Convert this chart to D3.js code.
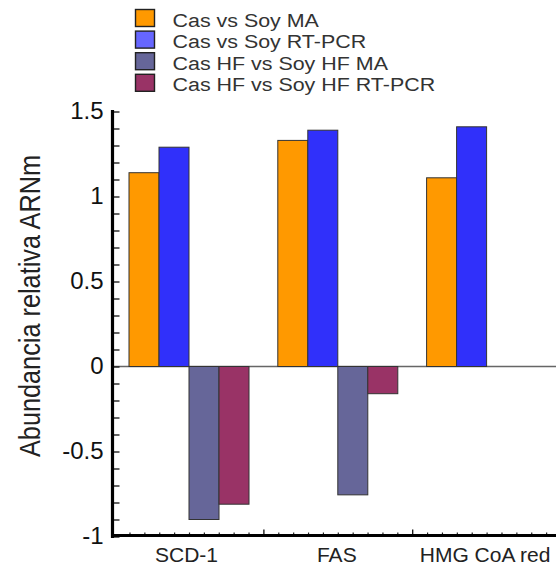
<!DOCTYPE html>
<html>
<head>
<meta charset="utf-8">
<script src="https://cdn.jsdelivr.net/npm/d3@7"></script>
<style>
  html, body { margin: 0; padding: 0; background: #fff; }
  svg { display: block; font-family: "Liberation Sans", Arial, sans-serif; }
</style>
</head>
<body>
<svg id="chart" width="556" height="567"></svg>
<script>
// Genes on the x axis
const genes = ["SCD-1", "FAS", "HMG CoA red"];
// Comparisons (one bar per gene each)
const seriesNames = ["Cas vs Soy MA", "Cas vs Soy RT-PCR", "Cas HF vs Soy HF MA", "Cas HF vs Soy HF RT-PCR"];
// Relative mRNA abundance, per comparison, in gene order (null = not measured)
const casSoyMA        = [1.14, 1.33, 1.11];
const casSoyRTPCR     = [1.29, 1.39, 1.41];
const casHFSoyHFMA    = [-0.90, -0.755, null];
const casHFSoyHFRTPCR = [-0.81, -0.16, null];
const seriesValues = [casSoyMA, casSoyRTPCR, casHFSoyHFMA, casHFSoyHFRTPCR];
// Axis ticks
const yTickLabels = [-1, -0.5, 0, 0.5, 1, 1.5];
const yMinorTicks = [-1, -0.9, -0.8, -0.7, -0.6, -0.5, -0.4, -0.3, -0.2, -0.1, 0, 0.1, 0.2, 0.3, 0.4, 0.5, 0.6, 0.7, 0.8, 0.9, 1, 1.1, 1.2, 1.3, 1.4, 1.5];

const barColors = ["#ff9900", "#3030fa", "#666699", "#993366"];
const swatchColors = ["#ff9900", "#6666ff", "#666699", "#993366"];

const svg = d3.select("#chart");

const y = d3.scaleLinear().domain([-1, 1.5]).range([536.5, 111.5]);
const x0 = d3.scaleBand().domain(genes).range([114.6, 561]).padding(0);
const x1 = d3.scaleBand().domain(seriesNames).range([0, x0.bandwidth()])
  .paddingInner(0).paddingOuter(0.48);

// Zero reference line
svg.append("line")
  .attr("x1", 113).attr("x2", 556)
  .attr("y1", y(0)).attr("y2", y(0))
  .attr("stroke", "#666").attr("stroke-width", 1.6);

// Bars
const rows = [];
genes.forEach((g, gi) => {
  seriesNames.forEach((s, si) => {
    const v = seriesValues[si][gi];
    if (v !== null) rows.push({ gene: g, series: s, si, value: v });
  });
});
svg.append("g").selectAll("rect").data(rows).join("rect")
  .attr("x", d => x0(d.gene) + x1(d.series))
  .attr("width", x1.bandwidth())
  .attr("y", d => y(Math.max(0, d.value)))
  .attr("height", d => Math.abs(y(d.value) - y(0)))
  .attr("fill", d => barColors[d.si])
  .attr("stroke", "#333")
  .attr("stroke-width", 1);

// Y axis: minor ticks inside, labels on the left
const yAxisX = 112.5;
svg.append("g")
  .attr("transform", `translate(${yAxisX},0)`)
  .call(d3.axisRight(y).tickValues(yMinorTicks).tickSize(7).tickFormat(""))
  .call(g => g.select(".domain").remove())
  .call(g => g.selectAll(".tick line").attr("stroke", "#111").attr("stroke-width", 1.3));

svg.append("g")
  .attr("transform", `translate(${yAxisX},0)`)
  .call(d3.axisLeft(y).tickValues(yTickLabels).tickSize(0).tickPadding(9)
    .tickFormat(d => String(d)))
  .call(g => g.select(".domain").remove())
  .call(g => g.selectAll(".tick text")
    .attr("font-size", 24).attr("fill", "#111")
    .attr("font-family", "'Liberation Sans', Arial, sans-serif")
    .attr("dy", "0.28em"));

svg.append("line")
  .attr("x1", yAxisX).attr("x2", yAxisX)
  .attr("y1", y(1.5) - 1.5).attr("y2", y(-1) + 1.5)
  .attr("stroke", "#000").attr("stroke-width", 3.2);

// X axis: minor ticks every tenth of a band, taller ticks at band edges
const xs = d3.scaleLinear().domain([0, genes.length]).range(x0.range());
const minorX = d3.range(0, genes.length * 10 + 1).map(i => i / 10).filter(v => Math.abs(v - Math.round(v)) > 1e-6);
const majorX = d3.range(1, genes.length);
const xAxisY = y(-1) - 1;
svg.append("g")
  .attr("transform", `translate(0,${xAxisY})`)
  .call(d3.axisTop(xs).tickValues(minorX).tickSize(3).tickFormat(""))
  .call(g => g.select(".domain").remove())
  .call(g => g.selectAll(".tick line").attr("stroke", "#222").attr("stroke-width", 1.2));
svg.append("g")
  .attr("transform", `translate(0,${xAxisY})`)
  .call(d3.axisTop(xs).tickValues(majorX).tickSize(6).tickFormat(""))
  .call(g => g.select(".domain").remove())
  .call(g => g.selectAll(".tick line").attr("stroke", "#111").attr("stroke-width", 1.3));

svg.append("line")
  .attr("x1", yAxisX - 1.5).attr("x2", 556)
  .attr("y1", xAxisY).attr("y2", xAxisY)
  .attr("stroke", "#000").attr("stroke-width", 3.2);

// Gene labels
svg.append("g").selectAll("text").data(genes).join("text")
  .attr("x", (d, i) => x0(d) + x0.bandwidth() / 2 - (i === 0 ? 2.5 : 0) - (i === 1 ? 1 : 0) - (i === 2 ? 1.5 : 0))
  .attr("y", 561.5)
  .attr("text-anchor", "middle")
  .attr("font-size", 21)
  .attr("fill", "#222")
  .text(d => d);

// Y axis title
svg.append("text")
  .attr("transform", `translate(40,306) rotate(-90)`)
  .attr("text-anchor", "middle")
  .attr("font-size", 30)
  .attr("fill", "#222")
  .attr("textLength", 302)
  .attr("lengthAdjust", "spacingAndGlyphs")
  .text("Abundancia relativa ARNm");

// Legend
const legend = svg.append("g");
const legendRows = legend.selectAll("g").data(seriesNames).join("g")
  .attr("transform", (d, i) => `translate(135.5,${9.5 + i * 21.6})`);
legendRows.append("rect")
  .attr("width", 19).attr("height", 17)
  .attr("fill", (d, i) => swatchColors[i])
  .attr("stroke", "#222").attr("stroke-width", 1.4);
legendRows.append("text")
  .attr("x", 37).attr("y", 17)
  .attr("font-size", 18)
  .attr("fill", "#333")
  .text(d => d)
  .each(function () {
    const len = this.getComputedTextLength();
    d3.select(this).attr("textLength", len * 1.19).attr("lengthAdjust", "spacingAndGlyphs");
  });
</script>
</body>
</html>
